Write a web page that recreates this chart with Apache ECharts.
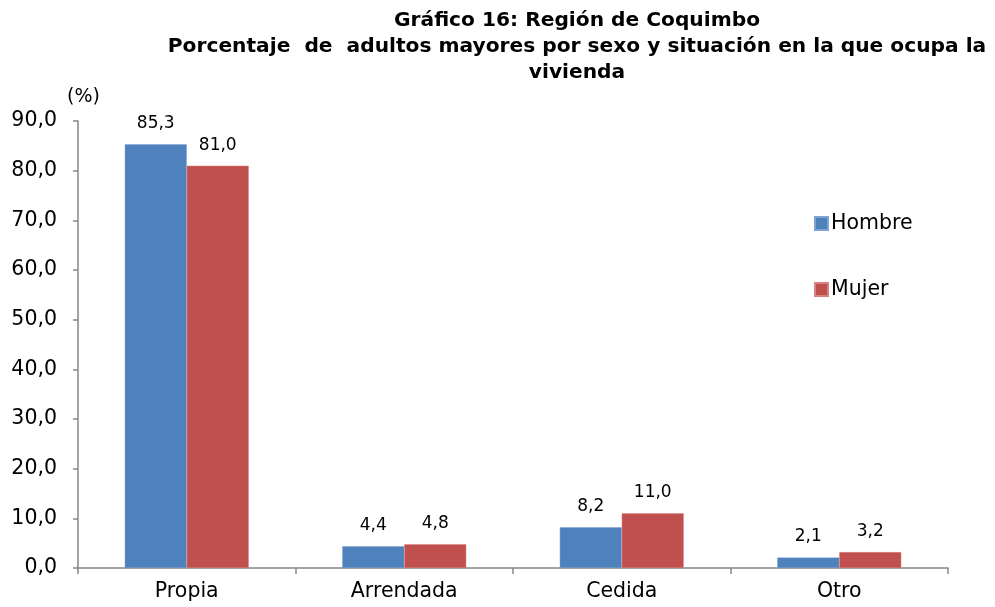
<!DOCTYPE html>
<html>
<head>
<meta charset="utf-8">
<script src="https://cdn.jsdelivr.net/npm/echarts@6/dist/echarts.min.js"></script>
<style>
  html, body { margin: 0; padding: 0; background: #fff; }
  #chart { width: 995px; height: 607px; }
</style>
</head>
<body>
<div id="chart"></div>
<script>
var categories = ["Propia", "Arrendada", "Cedida", "Otro"];
var hombre = [85.3, 4.4, 8.2, 2.1];
var mujer = [81.0, 4.8, 11.0, 3.2];

function coma(v) {
  return Number(v).toFixed(1).replace(".", ",");
}

var font = "Verdana, 'DejaVu Sans', sans-serif";
var chart = echarts.init(document.getElementById("chart"));
var option = {
  animation: false,
  textStyle: { fontFamily: font },
  title: {
    text: "Gráfico 16: Región de Coquimbo\nPorcentaje  de  adultos mayores por sexo y situación en la que ocupa la\nvivienda",
    left: 572,
    top: 3,
    textAlign: "center",
    textStyle: {
      fontFamily: font,
      fontSize: 20.2,
      fontWeight: "bold",
      color: "#000",
      lineHeight: 26
    }
  },
  legend: {
    orient: "vertical",
    left: 809,
    top: 208,
    itemWidth: 13,
    itemHeight: 13,
    itemGap: 45,
    icon: "rect",
    data: ["Hombre", "Mujer"],
    textStyle: { fontFamily: font, fontSize: 20.5, color: "#000", padding: [0, 0, 0, -2] }
  },
  grid: {
    left: 78,
    right: 47,
    top: 121,
    bottom: 39
  },
  xAxis: {
    type: "category",
    data: categories,
    axisLine: { lineStyle: { color: "#868686", width: 1.5 } },
    axisTick: { show: true, length: 6, lineStyle: { color: "#868686", width: 1.5 } },
    axisLabel: { fontFamily: font, fontSize: 20.5, color: "#000", margin: 13 }
  },
  yAxis: {
    type: "value",
    min: 0,
    max: 90,
    interval: 10,
    name: "(%)",
    nameLocation: "end",
    nameGap: 14,
    nameTextStyle: { fontFamily: font, fontSize: 19, color: "#000", align: "left", padding: [0, 0, 0, -11] },
    axisLine: { show: true, lineStyle: { color: "#868686", width: 1.5 } },
    axisTick: { show: true, length: 5, lineStyle: { color: "#868686", width: 1.5 } },
    splitLine: { show: false },
    axisLabel: {
      fontFamily: font,
      fontSize: 20.5,
      color: "#000",
      margin: 21,
      formatter: function (v) { return coma(v); }
    }
  },
  series: [
    {
      name: "Hombre",
      type: "bar",
      data: hombre,
      barGap: "0%",
      barCategoryGap: "43%",
      itemStyle: { color: "#4F81BD", borderColor: "#7FA3D2", borderWidth: 0.5 },
      label: {
        show: true,
        position: "top",
        distance: 12,
        fontFamily: font,
        fontSize: 17,
        color: "#000",
        formatter: function (p) { return coma(p.value); }
      }
    },
    {
      name: "Mujer",
      type: "bar",
      data: mujer,
      itemStyle: { color: "#C0504D", borderColor: "#D88280", borderWidth: 0.5 },
      label: {
        show: true,
        position: "top",
        distance: 12,
        fontFamily: font,
        fontSize: 17,
        color: "#000",
        formatter: function (p) { return coma(p.value); }
      }
    }
  ]
};
chart.setOption(option);
window.addEventListener("resize", function () {
  chart.resize();
});
</script>
</body>
</html>
